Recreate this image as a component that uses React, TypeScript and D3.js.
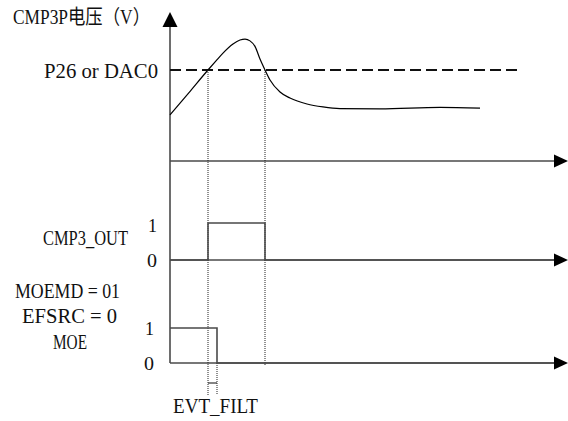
import React from "react";
import * as d3 from "d3";

// ---- data (time units, voltage units) ----
const curveT = [0, 19, 38, 46, 53, 63, 70, 75, 80, 85, 90, 95, 100, 110, 120, 137, 153, 170, 210, 270, 310];
const curveV = [2.53, 3.76, 5.0, 5.5, 5.93, 6.43, 6.65, 6.7, 6.6, 6.3, 5.6, 5.0, 4.45, 3.79, 3.46, 3.13, 2.97, 2.88, 2.86, 2.95, 2.91];
const thresholdV = 5;
const thresholdEndT = 347;
const crossT = [38, 95];
const filtEndT = 47;
const cmpOutT = [0, 38, 95, 384];
const cmpOutLvl = [0, 1, 0, 0];
const moeT = [0, 47, 384];
const moeLvl = [1, 0, 0];
const axisEndT = 398;

const titleLabel = "CMP3P电压（V）";
const thresholdLabel = "P26 or DAC0";
const cmpLabel = "CMP3_OUT";
const moeLabels = ["MOEMD = 01", "EFSRC = 0", "MOE"];
const levelLabels = ["1", "0"];
const filtLabel = "EVT_FILT";

const W = 568;
const H = 421;
const FONT = "'Liberation Serif', 'Noto Sans CJK SC', serif";

export default function App() {
  const x = d3.scaleLinear().domain([0, 400]).range([170, 570]);
  const yV = d3.scaleLinear().domain([0, 5]).range([161, 70]);
  const yCmp = d3.scaleLinear().domain([0, 1]).range([260, 223]);
  const yMoe = d3.scaleLinear().domain([0, 1]).range([363, 328]);

  const vLine = d3
    .line<number>()
    .x((_, i) => x(curveT[i]))
    .y((d) => yV(d))
    .curve(d3.curveMonotoneX);

  const cmpLine = d3
    .line<number>()
    .x((_, i) => x(cmpOutT[i]))
    .y((d) => yCmp(d))
    .curve(d3.curveStepAfter);

  const moeLine = d3
    .line<number>()
    .x((_, i) => x(moeT[i]))
    .y((d) => yMoe(d))
    .curve(d3.curveStepAfter);

  const x0 = x(0);
  const xEnd = x(axisEndT);
  const axisColor = "#4a4a4a";

  const arrowRight = (y: number) =>
    `M${xEnd - 14},${y - 6.5} L${xEnd},${y} L${xEnd - 14},${y + 6.5} Z`;

  const txt = (
    s: string,
    xx: number,
    yy: number,
    len: number,
    size = 22
  ) => (
    <text
      x={xx}
      y={yy}
      fontFamily={FONT}
      fontSize={size}
      fill="#111"
      textLength={len}
      lengthAdjust="spacingAndGlyphs"
    >
      {s}
    </text>
  );

  return (
    <svg
      width={W}
      height={H}
      style={{ position: "absolute", left: 0, top: 0, background: "#fff" }}
    >
      <rect x={0} y={0} width={W} height={H} fill="#fff" />
      {/* vertical axis */}
      <line x1={x0} y1={24} x2={x0} y2={yMoe(0)} stroke={axisColor} strokeWidth={1.6} />
      <path d={`M${x0 - 7.5},${27} L${x0},${12} L${x0 + 7.5},${27} Z`} fill="#000" />

      {/* horizontal axes */}
      {[yV(0), yCmp(0), yMoe(0)].map((yy, i) => (
        <g key={i}>
          <line x1={x0} y1={yy} x2={xEnd - 12} y2={yy} stroke={axisColor} strokeWidth={1.6} />
          <path d={arrowRight(yy)} fill="#000" />
        </g>
      ))}

      {/* threshold dashed line */}
      <line
        x1={x0}
        y1={yV(thresholdV)}
        x2={x(thresholdEndT)}
        y2={yV(thresholdV)}
        stroke="#111"
        strokeWidth={2}
        strokeDasharray="11,5"
      />

      {/* voltage curve */}
      <path d={vLine(curveV) || ""} fill="none" stroke="#000" strokeWidth={1.2} />

      {/* dotted verticals */}
      <line x1={x(crossT[0])} y1={yV(thresholdV)} x2={x(crossT[0])} y2={395} stroke="#222" strokeWidth={1} strokeDasharray="1,1" />
      <line x1={x(crossT[1])} y1={yV(thresholdV)} x2={x(crossT[1])} y2={365} stroke="#222" strokeWidth={1} strokeDasharray="1,1" />
      <line x1={x(filtEndT)} y1={yMoe(0)} x2={x(filtEndT)} y2={395} stroke="#222" strokeWidth={1} strokeDasharray="1,1" />
      <line x1={x(crossT[0])} y1={383} x2={x(filtEndT)} y2={383} stroke="#333" strokeWidth={1.2} />

      {/* digital signals */}
      <path d={cmpLine(cmpOutLvl) || ""} fill="none" stroke={axisColor} strokeWidth={1.6} />
      <path d={moeLine(moeLvl) || ""} fill="none" stroke={axisColor} strokeWidth={1.6} />

      {/* labels */}
      {txt(titleLabel, 13, 24, 137, 20)}
      {txt(thresholdLabel, 44, 78, 114)}
      {txt(cmpLabel, 43, 245, 85, 20)}
      {txt(levelLabels[0], 148, 232, 9, 19)}
      {txt(levelLabels[1], 147, 267, 10, 19)}
      {txt(moeLabels[0], 15, 298, 105)}
      {txt(moeLabels[1], 22, 323, 95)}
      {txt(moeLabels[2], 53, 349, 34)}
      {txt(levelLabels[0], 145, 335, 9, 19)}
      {txt(levelLabels[1], 144, 370, 10, 19)}
      {txt(filtLabel, 173, 413, 85)}
    </svg>
  );
}
